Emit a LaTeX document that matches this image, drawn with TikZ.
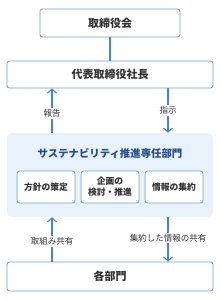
\documentclass[tikz,border=0pt]{standalone}
\usepackage{fontspec}
\newfontfamily\jp{Noto Sans CJK JP}
\usetikzlibrary{arrows.meta}
\definecolor{linecolor}{RGB}{66,133,211}
\definecolor{boxcolor}{RGB}{112,156,216}
\definecolor{bgcolor}{RGB}{232,242,251}
\definecolor{textcolor}{RGB}{51,51,51}
\definecolor{titlecolor}{RGB}{40,76,142}

\begin{document}
\begin{tikzpicture}[x=1pt,y=-1pt,font=\jp\fontsize{8.5}{10}\selectfont,
  box/.style={draw=boxcolor, fill=white, rounded corners=2.5pt, line width=0.8pt,
    text=textcolor, inner sep=0pt, font=\jp\bfseries\fontsize{11}{13}\selectfont},
  subbox/.style={box, minimum width=58pt, minimum height=32pt, align=center,
    font=\jp\bfseries\fontsize{8.8}{11}\selectfont},
  flow/.style={draw=linecolor, line width=1.1pt, -{Straight Barb[length=4pt,width=9pt]}},
  flowlabel/.style={fill=white, text=textcolor, inner sep=1.5pt}]
\def\xl{52}
\def\xr{168}

\useasboundingbox (0,0) rectangle (221,300);

% boxes
\node[box, minimum width=140pt, minimum height=28pt] (board) at (110,23) {取締役会};
\node[box, minimum width=206pt, minimum height=27pt] (president) at (110,74.5) {代表取締役社長};
\node[draw=none, fill=bgcolor, rounded corners=5pt, minimum width=206pt,
  minimum height=84pt, inner sep=0pt] (dept) at (110,175) {};
\node[text=titlecolor, font=\jp\bfseries\fontsize{10.4}{12}\selectfont] (title) at (110,153) {サステナビリティ推進専任部門};
\foreach \name/\x/\txt in {policy/46/方針の策定, plan/110/企画の\\検討・推進, info/174/情報の集約}{
  \node[subbox] (\name) at (\x,187) {\txt};
}
\node[box, minimum width=206pt, minimum height=29pt] (units) at (110,276.5) {各部門};

% connectors
\draw[draw=linecolor, line width=1.1pt] (board) -- (president);
\draw[flow] (president.south -| \xr,0) -- (dept.north -| \xr,0)
  node[flowlabel, pos=0.5] (order) {指示};
\draw[flow] (dept.north -| \xl,0) -- (president.south -| \xl,0)
  node[flowlabel, pos=0.43] (report) {報告};
\draw[flow] (units.north -| \xl,0) -- (dept.south -| \xl,0)
  node[flowlabel, pos=0.45] (share) {取組み共有};
\draw[flow] (dept.south -| \xr,0) -- (units.north -| \xr,0)
  node[flowlabel, pos=0.47] (collect) {集約した情報の共有};
\end{tikzpicture}
\end{document}
